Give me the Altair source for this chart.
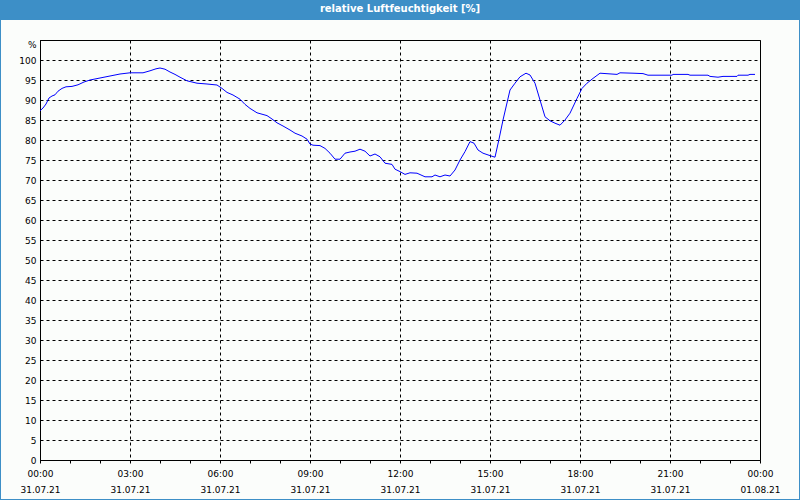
import altair as alt
import pandas as pd

times = ["00:00","00:06","00:12","00:18","00:24","00:30","00:36","00:44","00:52","01:04",
         "01:16","01:28","01:40","02:00","02:20","02:40","03:00","03:26","03:40","03:52",
         "04:00","04:10","04:20","04:30","04:40","04:54","05:14","05:34","05:54","06:04",
         "06:14","06:26","06:40","06:50","07:00","07:14","07:34","07:44","07:54","08:06",
         "08:20","08:30","08:44","08:54","09:00","09:06","09:20","09:30","09:40","09:50",
         "10:00","10:10","10:20","10:30","10:40","10:50","11:00","11:10","11:20","11:30",
         "11:44","11:50","12:00","12:10","12:20","12:34","12:50","13:04","13:10","13:20",
         "13:30","13:40","13:50","14:00","14:10","14:20","14:28","14:36","14:46","15:00",
         "15:10","15:18","15:26","15:40","15:50","16:00","16:12","16:20","16:30","16:40",
         "16:50","17:00","17:10","17:20","17:30","17:40","17:54","18:04","18:14","18:26",
         "18:40","19:14","19:20","19:46","20:06","20:16","21:04","21:06","21:36","21:40",
         "22:16","22:20","22:36","22:46","23:14","23:16","23:36","23:40","23:50"]
humidity = [87.3,88.0,89.0,90.5,91.0,91.3,92.2,92.9,93.3,93.4,
            93.8,94.5,95.0,95.5,96.0,96.5,96.8,96.8,97.3,97.8,
            98.0,97.7,97.0,96.4,95.7,94.8,94.2,94.0,93.75,92.9,
            91.9,91.25,90.2,88.9,87.9,86.8,86.1,85.25,84.3,83.5,
            82.5,81.7,81.0,80.2,79.0,78.7,78.6,77.9,76.7,75.2,
            75.2,76.7,77.0,77.2,77.7,77.2,76.0,76.5,75.8,74.2,
            73.9,72.7,72.1,71.4,71.8,71.7,70.8,70.8,71.25,70.8,
            71.25,71.0,72.5,75.0,77.1,79.6,79.2,77.5,76.7,76.1,
            75.7,80.2,85.0,92.5,94.2,95.8,96.7,96.25,94.2,90.0,
            85.8,84.8,84.2,83.7,85.0,86.7,90.4,92.9,94.2,95.4,
            96.7,96.4,96.8,96.7,96.6,96.2,96.2,96.4,96.4,96.2,
            96.2,95.9,95.7,95.9,95.9,96.2,96.2,96.4,96.4]

title_text = "relative Luftfeuchtigkeit [%]"
x_tick_hours = list(range(0, 25))
y_tick_values = list(range(0, 106, 5))

df = pd.DataFrame({
    "hour": [int(t[:2]) + int(t[3:]) / 60 for t in times],
    "rh": humidity,
})

FONT = "DejaVu Sans"
BLUE = "#3d8fc7"

x_enc = alt.X(
    "hour:Q",
    scale=alt.Scale(domain=[0, 24], nice=False, zero=False),
    axis=alt.Axis(
        title=None,
        values=x_tick_hours,
        labelExpr="datum.value % 3 != 0 ? '' : [((datum.value % 24) < 10 ? '0' : '') + (datum.value % 24) + ':00', datum.value == 24 ? '01.08.21' : '31.07.21']",
        labelFlush=False,
        labelOverlap=False,
        labelFont=FONT,
        labelFontSize=9,
        labelColor="#000000",
        labelLineHeight=16,
        labelPadding=6,
        tickSize=3,
        tickColor="#000000",
        domainColor="#000000",
        grid=True,
        gridColor="#000000",
        gridDash=[3, 3],
        gridOpacity={"condition": {"test": "datum.value % 3 == 0", "value": 1}, "value": 0},
    ),
)

y_enc = alt.Y(
    "rh:Q",
    scale=alt.Scale(domain=[0, 105], nice=False, zero=True),
    axis=alt.Axis(
        title=None,
        values=y_tick_values,
        labelExpr="datum.value == 105 ? '%' : datum.label",
        labelFont=FONT,
        labelFontSize=9,
        labelColor="#000000",
        labelPadding=4,
        labelOffset={"condition": {"test": "datum.value == 105", "value": 4}, "value": 0},
        tickSize=0,
        domainColor="#000000",
        grid=True,
        gridColor="#000000",
        gridDash=[3, 3],
    ),
)

line = alt.Chart(df).mark_line(color="#0000ff", strokeWidth=1, interpolate="linear").encode(x=x_enc, y=y_enc)

bar = alt.Chart(pd.DataFrame({"t": [title_text]})).mark_rect(color=BLUE, clip=False).encode(
    x=alt.value(-40), x2=alt.value(760), y=alt.value(-40), y2=alt.value(-20)
)
title = alt.Chart(pd.DataFrame({"t": [title_text]})).mark_text(
    color="white", font=FONT, fontSize=10, fontWeight="bold", baseline="middle", align="center"
).encode(text="t:N", x=alt.value(360), y=alt.value(-31))
border = alt.Chart(pd.DataFrame({"t": [title_text]})).mark_rect(
    fill=None, fillOpacity=0, stroke=BLUE, strokeWidth=2, clip=False
).encode(x=alt.value(-40), x2=alt.value(760), y=alt.value(-40), y2=alt.value(460))

chart = alt.layer(line, bar, title, border).properties(
    width=720, height=420,
    padding={"left": 40, "top": 40, "right": 40, "bottom": 40},
    autosize=alt.AutoSizeParams(type="none"),
    background="#fbfdfb",
).configure_view(stroke="#000000", strokeWidth=1)

chart.save("out.html", embed_options={"renderer": "svg", "actions": False})
